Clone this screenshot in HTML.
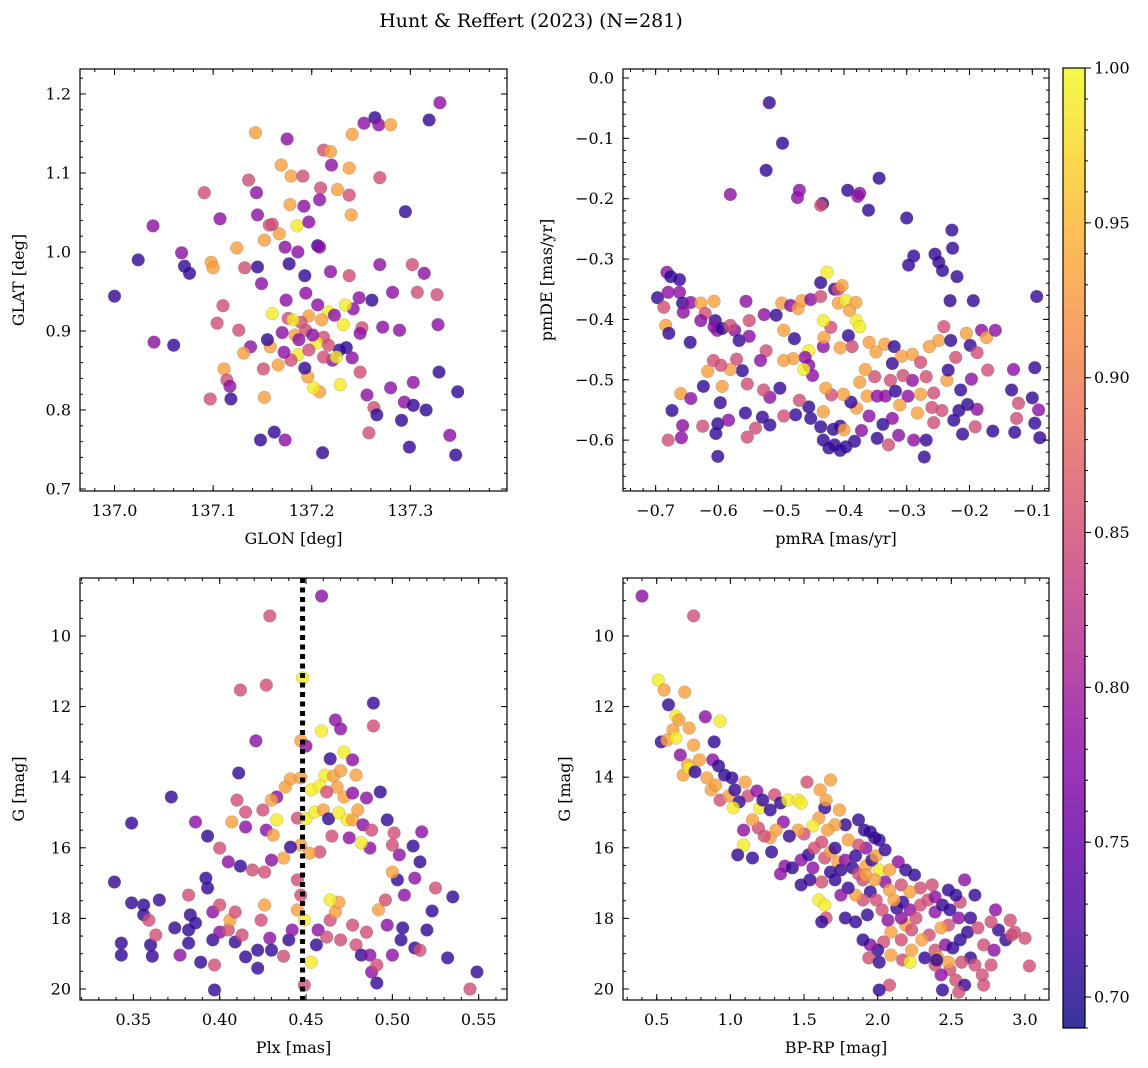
<!DOCTYPE html>
<html><head><meta charset="utf-8"><style>
html,body{margin:0;padding:0;background:#fff;}
svg{display:block;font-family:"DejaVu Serif","Liberation Serif",serif;}
</style></head><body>
<svg id="fig" width="1148" height="1068" viewBox="0 0 1148 1068" xmlns="http://www.w3.org/2000/svg">
<text x="531" y="27" font-size="19" text-anchor="middle">Hunt &amp; Reffert (2023) (N=281)</text>
</svg>
<script>
// ---------- Panel 1: GLON vs GLAT ----------
const p1Lon=[137.000,137.024,137.039,137.040,137.060,137.068,137.071,137.076,137.091,137.097,137.098,137.100,137.104,137.107,137.110,137.111,137.114,137.117,137.118,137.124,137.132,137.136,137.143,137.144,137.145,137.145,137.148,137.151,137.152,137.157,137.158,137.160,137.162,137.169,137.173,137.175,137.179,137.178,137.185,137.192,137.193,137.194,137.197,137.206,137.209,137.211,137.212,137.217,137.223,137.228,137.232,137.238,137.240,137.242,137.241,137.251,137.253,137.264,137.268,137.280,137.269,137.269,137.282,137.295,137.289,137.294,137.302,137.303,137.303,137.307,137.314,137.316,137.319,137.330,137.328,137.327,137.329,137.340,137.348,137.346,137.299,137.291,137.280,137.263,137.258,137.266,137.249,137.235,137.221,137.208,137.202,137.196,137.193,137.186,137.179,137.172,137.166,137.170,137.176,137.183,137.189,137.205,137.212,137.225,137.229,137.234,137.241,137.249,137.256,137.261,137.272,137.248,137.238,137.219,137.208,137.174,137.149,137.155,137.138,137.131,137.126,137.173,137.167,137.177,137.186,137.160,137.152,137.197,137.208,137.220,137.212,137.219,137.238,137.226,137.191,137.194,137.201,137.210,137.187,137.181,137.217,137.197,137.206];
const p1Lat=[0.944,0.990,1.033,0.886,0.882,0.999,0.982,0.973,1.075,0.814,0.987,0.980,0.910,1.042,0.932,0.852,0.838,0.830,0.814,1.005,0.980,1.091,1.151,1.075,1.047,0.981,0.762,0.852,0.816,1.034,0.880,0.922,0.772,1.110,0.762,1.143,1.096,1.060,1.033,1.058,0.970,0.948,0.919,1.008,1.081,0.746,0.892,0.924,0.920,0.876,0.908,1.072,1.047,0.928,1.149,0.904,1.163,1.170,1.161,1.161,0.984,1.094,0.949,1.051,0.901,0.810,0.984,0.835,0.806,0.949,0.973,0.800,1.167,1.189,0.908,0.946,0.848,0.768,0.823,0.743,0.753,0.787,0.828,0.803,0.771,0.794,0.897,0.879,0.863,0.823,0.828,0.842,0.853,0.870,0.863,0.873,0.857,0.898,0.916,0.895,0.911,0.885,0.867,0.867,0.832,0.933,0.866,0.848,0.819,0.939,0.905,0.942,0.970,0.975,1.006,0.939,0.960,0.889,0.880,0.872,0.901,1.006,1.023,0.985,1.000,1.035,1.015,1.038,1.066,1.110,1.129,1.127,1.106,1.079,1.096,0.901,0.895,0.914,0.889,0.914,0.882,0.876,0.933];
const p1Prob=[.71,.71,.78,.78,.71,.78,.71,.71,.85,.85,.93,.93,.85,.78,.85,.93,.85,.78,.71,.93,.85,.85,.93,.78,.78,.71,.71,.85,.93,.85,.93,.99,.71,.93,.78,.78,.93,.93,.99,.78,.71,.78,.93,.71,.85,.71,.85,.99,.78,.71,.99,.85,.93,.78,.93,.85,.78,.71,.78,.93,.78,.85,.78,.71,.78,.78,.85,.78,.71,.85,.78,.71,.71,.78,.78,.85,.71,.78,.71,.71,.71,.71,.78,.85,.85,.71,.78,.71,.78,.93,.99,.93,.71,.99,.85,.78,.93,.78,.85,.93,.85,.99,.85,.99,.99,.99,.78,.85,.78,.71,.78,.78,.85,.78,.78,.78,.78,.71,.78,.93,.85,.78,.93,.71,.78,.85,.93,.78,.78,.78,.85,.93,.93,.93,.85,.85,.78,.93,.78,.99,.85,.85,.78];

// ---------- Panel 2: pmRA vs pmDE ----------
const p2PmRA=[-0.519,-0.498,-0.524,-0.581,-0.434,-0.471,-0.474,-0.437,-0.394,-0.378,-0.375,-0.344,-0.361,-0.300,-0.228,-0.227,-0.255,-0.289,-0.297,-0.249,-0.243,-0.220,-0.093,-0.194,-0.231,-0.697,-0.682,-0.676,-0.662,-0.680,-0.687,-0.684,-0.679,-0.662,-0.657,-0.656,-0.645,-0.644,-0.628,-0.621,-0.607,-0.628,-0.605,-0.607,-0.602,-0.594,-0.574,-0.581,-0.567,-0.551,-0.556,-0.551,-0.527,-0.508,-0.499,-0.485,-0.496,-0.479,-0.473,-0.467,-0.453,-0.437,-0.437,-0.427,-0.415,-0.409,-0.403,-0.409,-0.397,-0.391,-0.381,-0.380,-0.375,-0.393,-0.387,-0.406,-0.433,-0.421,-0.433,-0.432,-0.456,-0.462,-0.456,-0.450,-0.464,-0.481,-0.496,-0.524,-0.533,-0.562,-0.571,-0.581,-0.596,-0.608,-0.617,-0.594,-0.597,-0.624,-0.660,-0.674,-0.644,-0.657,-0.601,-0.604,-0.625,-0.659,-0.680,-0.554,-0.601,
-0.360,-0.349,-0.335,-0.320,-0.323,-0.308,-0.291,-0.278,-0.264,-0.249,-0.241,-0.230,-0.205,-0.199,-0.181,-0.173,-0.159,-0.188,-0.222,-0.269,-0.291,-0.306,-0.326,-0.351,-0.366,-0.375,-0.363,-0.347,-0.334,-0.318,-0.298,-0.278,-0.257,-0.236,-0.234,-0.214,-0.197,-0.171,-0.130,-0.096,-0.188,-0.203,-0.217,-0.244,-0.260,-0.283,-0.311,-0.323,-0.338,-0.360,-0.380,-0.389,-0.401,-0.420,-0.429,-0.417,-0.437,-0.453,-0.433,-0.456,-0.471,-0.477,-0.496,-0.502,-0.518,-0.528,-0.554,-0.541,-0.518,-0.530,-0.557,-0.584,-0.433,-0.415,-0.406,-0.383,-0.372,-0.347,-0.329,-0.313,-0.289,-0.269,-0.257,-0.225,-0.211,-0.191,-0.163,-0.128,-0.125,-0.122,-0.133,-0.090,-0.096,-0.088,-0.100,-0.272,-0.397,-0.424,-0.406,-0.400];
const p2PmDE=[-0.041,-0.108,-0.153,-0.193,-0.208,-0.186,-0.198,-0.211,-0.186,-0.196,-0.191,-0.166,-0.219,-0.232,-0.252,-0.282,-0.292,-0.295,-0.310,-0.305,-0.319,-0.329,-0.362,-0.369,-0.369,-0.364,-0.322,-0.329,-0.334,-0.355,-0.380,-0.410,-0.423,-0.355,-0.373,-0.388,-0.438,-0.372,-0.373,-0.390,-0.370,-0.402,-0.402,-0.412,-0.418,-0.415,-0.418,-0.410,-0.435,-0.428,-0.370,-0.402,-0.392,-0.393,-0.373,-0.377,-0.418,-0.432,-0.382,-0.369,-0.367,-0.362,-0.339,-0.322,-0.350,-0.350,-0.344,-0.373,-0.369,-0.385,-0.372,-0.402,-0.412,-0.427,-0.445,-0.447,-0.445,-0.413,-0.402,-0.430,-0.452,-0.463,-0.476,-0.493,-0.483,-0.465,-0.468,-0.452,-0.468,-0.485,-0.466,-0.483,-0.476,-0.468,-0.486,-0.511,-0.538,-0.511,-0.523,-0.551,-0.531,-0.576,-0.573,-0.589,-0.577,-0.596,-0.600,-0.595,-0.627,
-0.438,-0.454,-0.441,-0.445,-0.473,-0.461,-0.458,-0.471,-0.445,-0.435,-0.412,-0.435,-0.423,-0.443,-0.418,-0.430,-0.418,-0.455,-0.463,-0.495,-0.501,-0.493,-0.501,-0.495,-0.483,-0.504,-0.527,-0.527,-0.527,-0.519,-0.527,-0.524,-0.522,-0.501,-0.484,-0.517,-0.499,-0.484,-0.483,-0.480,-0.549,-0.541,-0.551,-0.551,-0.546,-0.555,-0.542,-0.564,-0.574,-0.560,-0.547,-0.537,-0.524,-0.525,-0.514,-0.582,-0.578,-0.564,-0.553,-0.545,-0.534,-0.558,-0.560,-0.514,-0.529,-0.517,-0.507,-0.580,-0.575,-0.562,-0.555,-0.567,-0.600,-0.608,-0.617,-0.602,-0.584,-0.597,-0.608,-0.592,-0.600,-0.600,-0.571,-0.567,-0.590,-0.578,-0.585,-0.587,-0.564,-0.539,-0.517,-0.550,-0.572,-0.596,-0.530,-0.628,-0.611,-0.613,-0.577,-0.583];
const p2Prob=[.71,.71,.71,.78,.71,.78,.78,.85,.71,.78,.78,.71,.71,.71,.71,.71,.71,.71,.71,.71,.71,.71,.71,.71,.71,.71,.78,.71,.71,.78,.85,.93,.71,.78,.71,.78,.71,.78,.93,.85,.93,.78,.71,.78,.78,.71,.78,.85,.71,.78,.78,.85,.78,.71,.93,.78,.93,.71,.93,.93,.78,.85,.71,.99,.71,.85,.93,.93,.99,.93,.93,.99,.99,.71,.85,.93,.78,.85,.99,.93,.99,.78,.78,.78,.99,.93,.93,.85,.78,.71,.85,.93,.85,.85,.93,.93,.71,.71,.93,.71,.78,.78,.71,.71,.85,.78,.85,.85,.71,
.93,.93,.93,.71,.71,.93,.93,.85,.93,.93,.85,.71,.93,.71,.78,.93,.78,.85,.85,.85,.78,.85,.85,.85,.93,.93,.93,.78,.78,.71,.78,.93,.85,.93,.71,.71,.78,.85,.78,.71,.78,.71,.71,.85,.85,.93,.93,.78,.71,.78,.93,.71,.93,.85,.93,.71,.71,.71,.93,.71,.85,.71,.85,.71,.78,.85,.85,.85,.71,.71,.71,.78,.71,.71,.71,.71,.78,.71,.85,.78,.78,.71,.85,.71,.71,.85,.71,.71,.85,.85,.71,.78,.71,.71,.71,.71,.71,.71,.71,.93];

// ---------- Panel 3: Plx vs G ----------
const p3Plx=[0.459,0.429,0.427,0.412,0.448,0.489,0.489,0.459,0.467,0.470,0.421,0.447,0.450,0.472,0.464,0.477,0.441,0.447,0.461,0.466,0.468,0.479,0.470,0.372,0.349,0.453,0.458,0.462,0.472,0.477,0.485,0.493,0.438,0.433,0.430,0.425,0.415,0.410,0.407,0.415,0.427,0.431,0.433,0.445,0.450,0.455,0.460,0.463,0.469,0.474,0.477,0.480,0.483,0.488,0.497,0.501,0.512,0.504,0.500,0.487,0.482,0.475,0.465,0.458,0.452,0.447,0.441,0.437,0.430,0.426,0.419,0.412,0.405,0.400,0.393,0.339,0.343,0.343,0.349,0.356,0.356,0.359,0.360,0.361,0.363,0.365,0.374,0.377,0.382,0.382,0.383,0.386,0.382,0.389,0.392,0.393,0.396,0.396,0.397,0.400,0.400,0.405,0.406,0.409,0.409,0.413,0.415,0.422,0.422,0.424,0.426,0.429,0.430,0.437,0.440,0.442,0.445,0.447,0.445,0.449,0.453,0.456,0.457,0.462,0.464,0.467,0.469,0.464,0.470,0.477,0.479,0.482,0.485,0.487,0.488,0.491,0.491,0.492,0.496,0.497,0.500,0.505,0.506,0.513,0.516,0.520,0.523,0.532,0.549,0.535,0.516,0.525,0.503,0.500,0.513,0.507,0.517,0.386,0.411,0.545,0.397,0.449];
const p3G=[8.87,9.43,11.39,11.53,11.19,11.90,12.55,12.69,12.38,12.63,12.97,12.97,13.12,13.29,13.48,13.51,14.05,14.02,13.94,13.97,14.28,13.94,13.82,14.56,15.30,14.36,14.25,14.42,14.56,14.45,14.59,14.42,14.28,14.56,14.65,14.93,14.99,14.65,15.27,15.41,15.50,15.64,15.21,15.16,15.18,14.99,14.93,15.18,15.01,15.21,15.21,14.93,15.35,15.50,15.21,15.58,15.95,16.20,15.92,16.01,15.86,15.72,15.67,16.12,16.15,15.92,15.98,16.29,16.35,16.69,16.63,16.52,16.40,16.01,15.67,16.97,18.70,19.04,17.56,17.62,17.90,18.05,18.75,19.07,18.47,17.48,18.27,19.04,18.33,17.34,17.90,18.13,18.70,19.24,16.86,17.14,17.82,18.61,19.32,17.62,18.39,18.33,18.05,17.82,18.67,18.47,19.09,19.41,18.90,18.05,17.62,18.56,18.90,19.07,18.61,18.33,17.76,17.34,16.91,18.05,19.24,18.75,18.33,18.53,18.05,17.82,17.54,17.48,18.61,18.19,18.75,19.04,18.39,19.04,19.52,19.32,19.83,17.76,17.48,18.19,19.04,18.61,18.27,18.84,18.90,18.33,17.79,19.12,19.52,17.39,16.40,17.14,16.91,16.69,16.86,17.34,15.55,15.27,13.88,20.00,20.03,19.89];
const p3Prob=[.78,.85,.85,.85,.99,.71,.85,.99,.78,.78,.78,.93,.78,.99,.71,.78,.93,.93,.99,.93,.93,.93,.93,.71,.71,.99,.99,.85,.93,.78,.78,.71,.93,.78,.93,.85,.85,.85,.93,.78,.78,.93,.99,.85,.99,.99,.93,.71,.99,.99,.93,.93,.78,.85,.71,.85,.71,.78,.85,.78,.99,.78,.85,.85,.93,.93,.71,.93,.78,.85,.85,.71,.78,.85,.71,.71,.71,.71,.71,.71,.71,.85,.71,.71,.85,.71,.71,.78,.71,.85,.71,.71,.71,.71,.71,.71,.78,.71,.85,.85,.78,.85,.93,.85,.71,.85,.71,.71,.71,.85,.93,.78,.71,.85,.71,.78,.93,.85,.85,.99,.99,.71,.78,.85,.85,.93,.93,.99,.85,.85,.85,.71,.85,.78,.78,.85,.71,.93,.85,.78,.78,.71,.71,.71,.85,.71,.71,.71,.71,.71,.71,.85,.71,.93,.78,.78,.78,.78,.71,.85,.71,.85,.78];
const p3Line=0.448;

// ---------- Panel 4: BP-RP vs G ----------
const p4Color=[0.40,0.75,0.51,0.55,0.69,0.58,0.83,0.63,0.65,0.61,0.53,0.57,0.63,0.72,0.93,0.89,0.75,0.66,0.71,0.68,0.72,0.76,0.79,0.84,0.88,0.92,0.96,1.01,0.87,0.90,0.93,0.99,1.03,1.10,1.12,1.06,1.02,1.18,1.20,1.22,1.27,1.30,1.34,1.39,1.46,1.48,1.52,1.68,1.64,1.60,1.56,1.50,1.46,1.36,1.40,1.28,1.31,1.27,1.23,1.19,1.15,1.09,1.09,1.05,1.15,1.34,1.37,1.42,1.48,1.53,1.57,1.62,1.64,1.68,1.71,1.73,1.75,1.78,1.83,1.87,1.90,1.92,1.96,1.99,2.01,2.05,2.08,1.95,1.90,1.85,1.80,1.75,1.71,1.68,1.62,1.60,1.65,1.62,1.78,1.85,1.93,2.03,2.07,2.13,2.17,2.22,2.19,2.26,2.29,2.34,2.39,2.44,2.49,2.56,2.55,2.48,2.43,2.35,2.30,2.23,2.16,2.09,2.04,2.00,1.95,1.90,1.94,2.01,2.09,2.17,2.23,2.32,2.39,2.46,2.51,2.56,2.61,2.68,2.72,2.79,2.87,2.82,2.91,3.00,3.03,2.63,2.57,2.49,2.43,2.39,2.53,2.59,2.55,2.44,2.08,2.01,2.22,2.41,2.48,2.66,2.77,2.71,2.72,2.16,2.11,1.99,1.92,1.54,1.48,1.56,1.64,2.29,2.37,1.98,1.92,1.87,1.80,1.78,1.71,1.66,1.65,1.61,1.74,1.87,1.95,2.01,1.91,2.05,2.14,2.19,2.25,1.85,1.98,2.08,2.16,2.22,2.39,2.48,2.53,2.59,2.66,2.77,2.90,2.93,2.80,2.63,2.40];
const p4G=[8.87,9.43,11.25,11.53,11.59,11.95,12.29,12.27,12.38,12.66,13.00,12.95,12.89,12.61,12.41,13.00,13.09,13.37,13.65,13.94,13.74,13.85,13.51,14.02,13.51,13.68,13.94,14.02,14.36,14.22,14.65,14.53,14.36,14.14,14.53,14.70,14.87,14.39,14.87,14.65,14.93,14.50,14.73,14.65,14.65,14.73,14.14,14.08,14.87,15.16,15.38,15.61,15.50,15.27,15.67,16.12,15.50,15.72,15.67,15.44,15.21,15.50,15.92,16.20,16.29,16.74,16.52,16.57,16.35,16.20,16.01,15.84,16.29,16.12,16.01,16.40,16.63,16.35,16.57,16.74,16.91,16.52,16.35,16.23,16.63,16.97,17.20,17.25,17.48,17.34,17.14,17.34,16.91,16.69,16.97,17.48,17.99,18.10,17.99,18.10,17.90,17.76,18.05,17.71,17.54,17.76,18.19,17.99,17.62,17.48,17.82,17.62,17.76,17.54,17.99,18.19,18.27,18.47,18.61,18.33,18.61,18.39,18.67,18.90,18.75,18.61,19.12,19.24,19.04,19.18,18.90,19.12,18.90,18.75,18.84,18.61,18.39,18.27,18.75,18.90,18.61,18.33,18.47,18.56,19.35,19.12,19.24,19.46,19.60,19.32,19.75,19.89,20.09,20.03,19.89,20.03,19.24,19.12,19.24,19.32,19.32,19.60,19.89,17.99,17.48,17.48,16.77,16.91,17.05,16.57,17.62,17.14,17.05,15.72,16.01,15.92,15.78,15.35,15.35,15.50,14.65,14.36,14.93,15.21,15.55,15.78,15.50,16.06,16.40,16.63,16.77,16.23,16.91,16.63,17.05,17.25,17.39,17.20,17.34,16.91,17.34,18.10,18.05,18.39,17.76,17.99,19.18];
const p4Prob=[.78,.85,.99,.93,.93,.71,.78,.99,.93,.93,.71,.93,.99,.93,.99,.71,.93,.78,.93,.93,.99,.71,.93,.93,.78,.71,.71,.71,.93,.93,.85,.93,.71,.93,.85,.71,.99,.78,.99,.71,.71,.85,.71,.99,.99,.99,.85,.93,.71,.93,.99,.85,.93,.78,.71,.71,.93,.93,.85,.85,.93,.78,.99,.71,.71,.78,.78,.71,.78,.71,.85,.85,.85,.93,.71,.93,.71,.78,.71,.85,.85,.93,.71,.93,.99,.78,.93,.71,.85,.93,.71,.78,.71,.71,.85,.99,.85,.71,.71,.71,.71,.85,.78,.71,.71,.78,.93,.85,.85,.85,.78,.71,.71,.85,.78,.85,.93,.85,.93,.85,.85,.93,.85,.71,.78,.71,.85,.71,.93,.85,.93,.71,.85,.78,.71,.71,.71,.85,.85,.78,.71,.71,.85,.85,.85,.71,.85,.85,.78,.85,.85,.71,.85,.71,.85,.71,.99,.93,.93,.85,.85,.85,.85,.78,.93,.85,.93,.71,.71,.78,.99,.85,.85,.71,.78,.85,.93,.71,.93,.93,.93,.93,.93,.71,.71,.71,.71,.71,.78,.71,.71,.71,.93,.93,.85,.93,.78,.71,.71,.78,.71,.85,.85,.85,.78,.71,.71,.99];

// ---------- Colorbar ----------
const cbTicks=[0.70,0.75,0.80,0.85,0.90,0.95,1.00];
const cbMin=0.69, cbMax=1.0;

const NS="http://www.w3.org/2000/svg";
const svg=document.getElementById('fig');
function el(tag,attrs,parent){const e=document.createElementNS(NS,tag);for(const k in attrs)e.setAttribute(k,attrs[k]);(parent||svg).appendChild(e);return e;}

const plasma=[[0,[13,8,135]],[0.1,[65,4,157]],[0.2,[106,0,168]],[0.3,[143,13,164]],[0.4,[177,42,144]],[0.5,[204,71,120]],[0.6,[225,100,98]],[0.7,[242,132,75]],[0.8,[252,166,54]],[0.9,[252,206,37]],[1,[240,249,33]]];
function cmap(t){t=Math.max(0,Math.min(1,t));for(let i=1;i<plasma.length;i++){if(t<=plasma[i][0]){const a=plasma[i-1],b=plasma[i],f=(t-a[0])/(b[0]-a[0]);const c=a[1].map((v,j)=>Math.round(v+(b[1][j]-v)*f));return `rgb(${c[0]},${c[1]},${c[2]})`;}}return 'rgb(240,249,33)';}
function colorOf(v){return cmap((v-cbMin)/(cbMax-cbMin));}
const minus=s=>s.replace('-','\u2212');

function panel(cfg){
  const g=el('g',{});
  
  
  const {x0,x1,y0,y1}=cfg.box;
  const sx=v=>x0+(v-cfg.xd[0])/(cfg.xd[1]-cfg.xd[0])*(x1-x0);
  const sy=cfg.yinv? (v=>y0+(v-cfg.yd[0])/(cfg.yd[1]-cfg.yd[0])*(y1-y0)) : (v=>y1-(v-cfg.yd[0])/(cfg.yd[1]-cfg.yd[0])*(y1-y0));
  const clip=el('clipPath',{id:'clip-'+cfg.name},g);el('rect',{x:x0,y:y0,width:x1-x0,height:y1-y0},clip);
  const pts=el('g',{'clip-path':'url(#clip-'+cfg.name+')'},g);
  
  
  const n=Math.min(cfg.xs.length,cfg.ys.length,cfg.cs.length);
  for(let i=0;i<n;i++){
    const c=el('circle',{cx:sx(cfg.xs[i]).toFixed(1),cy:sy(cfg.ys[i]).toFixed(1),r:6.4,fill:colorOf(cfg.cs[i]),'fill-opacity':0.8,stroke:'#666','stroke-width':0.35,'stroke-opacity':0.6},pts);
    
    
  }
  if(cfg.vline!==undefined){
    const l=el('line',{x1:sx(cfg.vline),x2:sx(cfg.vline),y1:y0,y2:y1,stroke:'#000','stroke-width':5,'stroke-dasharray':'5 4.5'},pts);
    
    
  }
  el('rect',{x:x0,y:y0,width:x1-x0,height:y1-y0,fill:'none',stroke:'#000','stroke-width':1.2},g);
  const tk=el('g',{stroke:'#000','stroke-width':1},g);
  function ticks(dom,step,f){const s=Math.ceil(dom[0]/step-1e-6);for(let k=s;k*step<=dom[1]+1e-9;k++)f(+(k*step).toFixed(6));}
  ticks(cfg.xd,cfg.xminor,v=>{const X=sx(v);el('line',{x1:X,x2:X,y1:y1,y2:y1-3},tk);el('line',{x1:X,x2:X,y1:y0,y2:y0+3},tk);});
  ticks(cfg.yd,cfg.yminor,v=>{const Y=sy(v);el('line',{x1:x0,x2:x0+3,y1:Y,y2:Y},tk);el('line',{x1:x1,x2:x1-3,y1:Y,y2:Y},tk);});
  const xl=el('g',{},g);
  cfg.xt.forEach(v=>{const X=sx(v);el('line',{x1:X,x2:X,y1:y1,y2:y1-6},tk);el('line',{x1:X,x2:X,y1:y0,y2:y0+6},tk);
    const t=el('text',{x:X,y:y1+25,'font-size':16,'text-anchor':'middle'},xl);t.textContent=minus(v.toFixed(cfg.xdec));});
  const yl=el('g',{},g);
  cfg.yt.forEach(v=>{const Y=sy(v);el('line',{x1:x0,x2:x0+6,y1:Y,y2:Y},tk);el('line',{x1:x1,x2:x1-6,y1:Y,y2:Y},tk);
    const t=el('text',{x:x0-9,y:Y+5.5,'font-size':16,'text-anchor':'end'},yl);t.textContent=minus(v.toFixed(cfg.ydec));});
  const xt=el('text',{x:(x0+x1)/2,y:y1+53,'font-size':16,'text-anchor':'middle'},g);xt.textContent=cfg.xlabel;
  
  const yx=cfg.ylx, yy=(y0+y1)/2;
  const yt=el('text',{x:yx,y:yy,'font-size':16,'text-anchor':'middle',transform:`rotate(-90 ${yx} ${yy})`},g);yt.textContent=cfg.ylabel;
  
}

panel({name:'glon-glat-panel',box:{x0:80,x1:507,y0:69,y1:491},xd:[136.965,137.398],yd:[0.6975,1.2316],
  xs:p1Lon,ys:p1Lat,cs:p1Prob,xt:[137.0,137.1,137.2,137.3],yt:[0.7,0.8,0.9,1.0,1.1,1.2],xdec:1,ydec:1,xminor:0.02,yminor:0.02,
  xlabel:'GLON [deg]',ylabel:'GLAT [deg]',ylx:24});
panel({name:'proper-motion-panel',box:{x0:623,x1:1049,y0:69,y1:491},xd:[-0.752,-0.0734],yd:[-0.6843,0.0149],
  xs:p2PmRA,ys:p2PmDE,cs:p2Prob,xt:[-0.7,-0.6,-0.5,-0.4,-0.3,-0.2,-0.1],yt:[-0.6,-0.5,-0.4,-0.3,-0.2,-0.1,0.0],xdec:1,ydec:1,xminor:0.02,yminor:0.02,
  xlabel:'pmRA [mas/yr]',ylabel:'pmDE [mas/yr]',ylx:552});
panel({name:'parallax-mag-panel',box:{x0:80,x1:507,y0:578,y1:1000},xd:[0.3191,0.5664],yd:[8.357,20.312],yinv:true,
  xs:p3Plx,ys:p3G,cs:p3Prob,xt:[0.35,0.40,0.45,0.50,0.55],yt:[10,12,14,16,18,20],xdec:2,ydec:0,xminor:0.01,yminor:0.5,
  xlabel:'Plx [mas]',ylabel:'G [mag]',ylx:24,vline:p3Line});
panel({name:'cmd-panel',box:{x0:623,x1:1049,y0:578,y1:1000},xd:[0.271,3.163],yd:[8.357,20.312],yinv:true,
  xs:p4Color,ys:p4G,cs:p4Prob,xt:[0.5,1.0,1.5,2.0,2.5,3.0],yt:[10,12,14,16,18,20],xdec:1,ydec:0,xminor:0.1,yminor:0.5,
  xlabel:'BP-RP [mag]',ylabel:'G [mag]',ylx:570});

// colorbar
(function(){
  const g=el('g',{});
  
  
  const x0=1063,x1=1085,y0=68,y1=1028;
  const defs=el('defs',{},g);const lg=el('linearGradient',{id:'cbgrad',x1:0,y1:1,x2:0,y2:0},defs);
  plasma.forEach(s=>el('stop',{offset:s[0],'stop-color':cmap(s[0]),'stop-opacity':0.82},lg));
  el('rect',{x:x0,y:y0,width:x1-x0,height:y1-y0,fill:'url(#cbgrad)'},g);
  el('rect',{x:x0,y:y0,width:x1-x0,height:y1-y0,fill:'none',stroke:'#000','stroke-width':1.2},g);
  const sy=v=>y1-(v-cbMin)/(cbMax-cbMin)*(y1-y0);
  for(let k=69;k<=100;k++){const Y=sy(k/100);el('line',{x1:x1,x2:x1+3,y1:Y,y2:Y,stroke:'#000'},g);}
  cbTicks.forEach(v=>{const Y=sy(v);el('line',{x1:x1,x2:x1+6,y1:Y,y2:Y,stroke:'#000'},g);
    const t=el('text',{x:x1+9,y:Y+5.5,'font-size':16},g);t.textContent=v.toFixed(2);
    });
})();
</script>
</body></html>
